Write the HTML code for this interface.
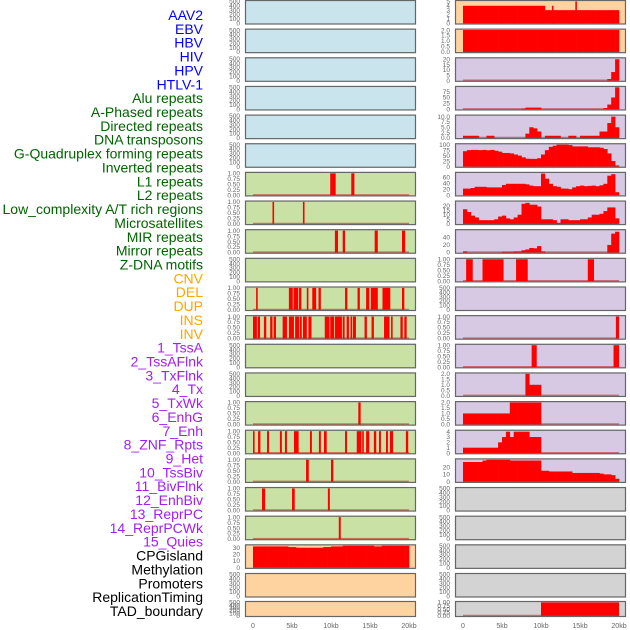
<!DOCTYPE html>
<html><head><meta charset="utf-8">
<style>
html,body{margin:0;padding:0;background:#fff;}
svg{display:block;font-family:"Liberation Sans",sans-serif;}
</style></head>
<body>
<svg id="chart" width="630" height="630" viewBox="0 0 630 630" xmlns="http://www.w3.org/2000/svg">
<g id="labels"></g>
<g id="panels"></g>
<g id="xaxes"></g>
</svg>
<script>
// ---- label data ----
const trackLabels = ["AAV2","EBV","HBV","HIV","HPV","HTLV-1","Alu repeats","A-Phased repeats","Directed repeats","DNA transposons","G-Quadruplex forming repeats","Inverted repeats","L1 repeats","L2 repeats","Low_complexity A/T rich regions","Microsatellites","MIR repeats","Mirror repeats","Z-DNA motifs","CNV","DEL","DUP","INS","INV","1_TssA","2_TssAFlnk","3_TxFlnk","4_Tx","5_TxWk","6_EnhG","7_Enh","8_ZNF_Rpts","9_Het","10_TssBiv","11_BivFlnk","12_EnhBiv","13_ReprPC","14_ReprPCWk","15_Quies","CPGisland","Methylation","Promoters","ReplicationTiming","TAD_boundary"];
const labelGroups = [6,13,5,15,5];
const groupColors = ["#0000ff","#006400","#ffa500","#a020f0","#000000"];

// ---- x axis ----
const xTickValues = [0,5,10,15,20];
const xTickLabels = ["0","5kb","10kb","15kb","20kb"];

// ---- y tick sets ----
const t500 = [0,100,200,300,400,500];
const t500L = ["0","100","200","300","400","500"];
const tBin = [0,0.25,0.5,0.75,1];
const tBinL = ["0.00","0.25","0.50","0.75","1.00"];
const t2 = [0,0.5,1,1.5,2];
const t2L = ["0.0","0.5","1.0","1.5","2.0"];

// ---- left track data (intervals in kb, value 1) ----
const leftR6 = [[9.9,10.6],[12.6,13.0]];
const leftR7 = [[2.5,2.7],[6.4,6.6]];
const leftR8 = [[10.5,10.9],[11.5,11.8],[15.6,16.0],[19.1,19.5]];
const leftR10 = [[0.4,0.6],[4.6,5.1],[5.2,5.8],[5.9,6.2],[6.9,7.1],[7.6,8.1],[8.4,8.7],[11.8,12.1],[13.4,13.7],[14.5,14.9],[15.1,16.0],[16.6,17.6],[19.1,19.4]];
const leftR11 = [[0,0.5],[0.6,0.9],[1.4,1.7],[2.2,2.5],[2.65,2.95],[3.8,4.35],[4.6,5.25],[5.4,5.9],[6.0,6.25],[6.4,6.9],[7.1,7.5],[9.2,9.8],[9.9,10.4],[10.5,11.4],[11.5,11.75],[12.0,12.3],[12.5,12.7],[12.8,13.2],[14.3,14.6],[15.2,15.5],[16.8,17.5],[17.7,17.9],[18.9,19.2],[19.4,19.7]];
const leftR14 = [[13.5,13.8]];
const leftR15 = [[0,0.15],[0.65,0.95],[1.8,2.05],[3.45,3.7],[4.1,4.35],[5.25,5.85],[7.3,7.55],[8.45,8.7],[9.1,9.45],[11.8,12.05],[13.3,13.9],[14.0,14.2],[14.5,14.9],[15.5,15.8],[16.15,16.4],[17.05,17.3],[17.55,17.95],[19.6,19.9]];
const leftR16 = [[6.8,7.15],[10.0,10.3]];
const leftR17 = [[1.15,1.55],[5.0,5.35],[9.6,9.85]];
const leftR18 = [[11.0,11.25]];
const cpgValues = [32,32,32,32,32,32,32,32,32,31,31,30,30,30,30,30,30,30,31,31,32,32,32,33,33,33,33,33,33,33,33,32,32,33,33,33,33,33,33,33];

// ---- right track data (0.5kb bins) ----
const rightR0 = [4,4,4,4,4,4,4,4,4,4,4,4,4,4,4,4,4,4,4,4,4,3,3,3,3,3,3,3,3,3,3,3,3,3,3,3,3,3,3,3];
const rightR0Spikes = [[11.4,11.6,4],[14.4,14.6,5]];
const rightR1 = [2,2,2,2,2,2,2,2,2,2,2,2,2,2,2,2,2,2,2,2,2,2,2,2,2,2,2,2,2,2,2,2,2,2,2,2,2,2,2,2];
const rightR2 = [0,0,0,0,0,0,0,0,0,0,0,0,0,0,0,0,0,0,0,0,0,0,0,0,0,0,0,0,0,0,0,0,0,0,0,0,0,1.5,8,20];
const rightR3 = [0,0,0,0,0,0,0,0,0,0,0,0,0,0,0,2,7,7,7,7,0,0,0,0,0,0,0,0,0,0,0,0,0,0,0,0,5,20,50,93];
const rightR4 = [1,1,1,1,0,0,1,1,0,0,0,0,0,0,0,0,2,5,4.5,3,0,1,1,1,1,0,0,1,1,0,1,1,1,1,1,3,3,7,10,5];
const rightR5 = [70,75,76,76,75,76,74,76,72,68,62,62,60,55,50,42,36,35,35,38,55,75,90,95,100,100,100,98,92,92,92,92,88,88,88,86,80,60,25,5];
const rightR6 = [22,22,24,28,28,28,26,26,26,26,34,38,38,38,38,38,36,32,30,30,72,55,38,30,28,22,22,20,26,30,32,30,31,32,30,33,38,65,70,10];
const rightR7 = [16,13,9,7,4,4,4,4,5,8,9,6,5,7,10,22,23,21,21,19,5,5,5,4,1,5,5,4,4,4,5,5,7,10,10,11,14,18,18,6];
const rightR8 = [3,0,0,0,0,0,0,0,0,0,2,2,2,3,3,6,8,12,11,17,3,0,0,0,0,0,0,0,0,0,0,0,0,0,0,0,0,20,50,55];
const rightR9 = [[0.4,1.25],[2.5,5.2],[6.8,8.3],[16.0,16.8]];
const rightR11 = [[19.6,20.0]];
const rightR12 = [[8.8,9.45],[19.3,20.0]];
const rightR13 = [0,0,0,0,0,0,0,0,0,0,0,0,0,0,0,0,2,1,1,1,0,0,0,0,0,0,0,0,0,0,0,0,0,0,0,0,0,0,0,0];
const rightR14 = [1,1,1,1,1,1,1,1,1,1,1,1,2,2,2,2,2,2,2,2,0,0,0,0,0,0,0,0,0,0,0,0,0,0,0,0,0,0,0,0];
const rightR15 = [1,1,1,1,1,1,1,1,1,2,3,4,3,4,4,4,4,3,3,3,0,0,0,0,0,0,0,0,0,0,0,0,0,0,0,0,0,0,0,0];
const rightR16 = [27,27,27,27,27,29,30,30,30,30,30,30,29,29,29,29,29,29,29,29,15,15,14,14,14,14,14,14,12,12,12,12,12,12,12,11,10,10,9,4];
const rightR21 = [[10.0,20.0]];

// ---- colors ----
const C = {blue:"#c9e4ec", green:"#c9e1a5", purple:"#d7c8e3", orange:"#ffd3a0", gray:"#d3d3d3"};

const NS = "http://www.w3.org/2000/svg";
function mk(tag, attrs, parent){
  const e = document.createElementNS(NS, tag);
  for (const k in attrs) e.setAttribute(k, attrs[k]);
  parent.appendChild(e);
  return e;
}
const gL = document.getElementById("labels");
const gP = document.getElementById("panels");
const gX = document.getElementById("xaxes");

// labels
let idx = 0;
labelGroups.forEach((n, gi) => {
  for (let k = 0; k < n; k++) {
    const t = mk("text", {x:203, y:15 + idx*13.86 + 5, "text-anchor":"end", "font-size":"14", fill:groupColors[gi]}, gL);
    t.textContent = trackLabels[idx];
    
    
    idx++;
  }
});

// panel geometry
function rowTop(i){ return i < 21 ? i*28.65 : 601; }
function rowH(i){ return i < 21 ? 24.5 : 16; }
const PXKB = 7.8;
function xScale(side, kb){ return (side ? 463 : 253) + kb*PXKB; }
function yScale(i, v, ymax){ const b = rowTop(i)+rowH(i)-1.2; return b - v/ymax*(rowH(i)-2.6); }

function panel(side, i, bg, ticks, tickLabels, ymax, drawFn, name){
  const g = mk("g", {}, gP);
  
  
  const x0 = side ? 455 : 245;
  const bgR = mk("rect", {x:x0, y:rowTop(i), width:171, height:rowH(i), fill:bg}, g);
  
  
  if (drawFn) {
    const bl = mk("line", {x1:xScale(side,0), x2:xScale(side,20), y1:yScale(i,0,ymax)-0.3, y2:yScale(i,0,ymax)-0.3, stroke:"rgba(190,30,30,0.55)", "stroke-width":1.6}, g);
    
    
    drawFn(g, side, i, ymax);
  }
  const br = mk("rect", {x:x0+0.5, y:rowTop(i)+0.5, width:170, height:rowH(i)-1, fill:"none", stroke:"#666", "stroke-width":1.2}, g);
  
  
  ticks.forEach((tv, k) => {
    const t = mk("text", {x: side ? 450 : 240, y: yScale(i,tv,ymax)+2.2, "text-anchor":"end", "font-size":"6.5", fill:"#666"}, g);
    t.textContent = tickLabels[k];
    
    
  });
}
function bins(arr){
  return function(g, side, i, ymax){
    arr.forEach((v, k) => {
      if (!v) return;
      const x1 = xScale(side, k*0.5), x2 = xScale(side, k*0.5+0.5);
      const y = yScale(i, v, ymax);
      const r = mk("rect", {x:x1, y:y, width:x2-x1+0.3, height:yScale(i,0,ymax)-y, fill:"#ff0000"}, g);
      
      
    });
  };
}
function intervals(arr){
  return function(g, side, i, ymax){
    arr.forEach(iv => {
      const x1 = xScale(side, iv[0]);
      const w = Math.max(xScale(side, iv[1]) - x1, 1.6);
      const v = iv.length > 2 ? iv[2] : 1;
      const y = yScale(i, v, ymax);
      const r = mk("rect", {x:x1, y:y, width:w, height:yScale(i,0,ymax)-y, fill:"#ff0000"}, g);
      
      
    });
  };
}
function both(a, b){ return function(g,s,i,m){ a(g,s,i,m); b(g,s,i,m); }; }

// left column
for (let i = 0; i < 6; i++) panel(0, i, C.blue, t500, t500L, 500, null, 'left-panel-' + i);
panel(0, 6, C.green, tBin, tBinL, 1, intervals(leftR6), 'left-panel-6');
panel(0, 7, C.green, tBin, tBinL, 1, intervals(leftR7), 'left-panel-7');
panel(0, 8, C.green, tBin, tBinL, 1, intervals(leftR8), 'left-panel-8');
panel(0, 9, C.green, t500, t500L, 500, null, 'left-panel-9');
panel(0, 10, C.green, tBin, tBinL, 1, intervals(leftR10), 'left-panel-10');
panel(0, 11, C.green, tBin, tBinL, 1, intervals(leftR11), 'left-panel-11');
panel(0, 12, C.green, t500, t500L, 500, null, 'left-panel-12');
panel(0, 13, C.green, t500, t500L, 500, null, 'left-panel-13');
panel(0, 14, C.green, tBin, tBinL, 1, intervals(leftR14), 'left-panel-14');
panel(0, 15, C.green, tBin, tBinL, 1, intervals(leftR15), 'left-panel-15');
panel(0, 16, C.green, tBin, tBinL, 1, intervals(leftR16), 'left-panel-16');
panel(0, 17, C.green, tBin, tBinL, 1, intervals(leftR17), 'left-panel-17');
panel(0, 18, C.green, tBin, tBinL, 1, intervals(leftR18), 'left-panel-18');
panel(0, 19, C.orange, [0,10,20,30], ["0","10","20","30"], 33, bins(cpgValues), 'left-panel-cpg');
panel(0, 20, C.orange, t500, t500L, 500, null, 'left-panel-20');
panel(0, 21, C.orange, t500, t500L, 500, null, 'left-panel-21');

// right column
panel(1, 0, C.orange, [0,1,2,3,4,5], ["0","1","2","3","4","5"], 5, both(bins(rightR0), intervals(rightR0Spikes)), 'right-panel-0');
panel(1, 1, C.orange, t2, t2L, 2, bins(rightR1), 'right-panel-1');
panel(1, 2, C.purple, [0,5,10,15,20], ["0","5","10","15","20"], 20.5, bins(rightR2), 'right-panel-2');
panel(1, 3, C.purple, [0,25,50,75], ["0","25","50","75"], 93, bins(rightR3), 'right-panel-3');
panel(1, 4, C.purple, [0,2.5,5,7.5,10], ["0.0","2.5","5.0","7.5","10.0"], 10.3, bins(rightR4), 'right-panel-4');
panel(1, 5, C.purple, [0,25,50,75,100], ["0","25","50","75","100"], 100, bins(rightR5), 'right-panel-5');
panel(1, 6, C.purple, [0,20,40,60], ["0","20","40","60"], 73, bins(rightR6), 'right-panel-6');
panel(1, 7, C.purple, [0,5,10,15,20], ["0","5","10","15","20"], 24, bins(rightR7), 'right-panel-7');
panel(1, 8, C.purple, [0,20,40], ["0","20","40"], 58, bins(rightR8), 'right-panel-8');
panel(1, 9, C.purple, tBin, tBinL, 1, intervals(rightR9), 'right-panel-9');
panel(1, 10, C.purple, t500, t500L, 500, null, 'right-panel-10');
panel(1, 11, C.purple, tBin, tBinL, 1, intervals(rightR11), 'right-panel-11');
panel(1, 12, C.purple, tBin, tBinL, 1, intervals(rightR12), 'right-panel-12');
panel(1, 13, C.purple, t2, t2L, 2, bins(rightR13), 'right-panel-13');
panel(1, 14, C.purple, t2, t2L, 2, bins(rightR14), 'right-panel-14');
panel(1, 15, C.purple, [0,1,2,3,4], ["0","1","2","3","4"], 4.1, bins(rightR15), 'right-panel-15');
panel(1, 16, C.purple, [0,10,20], ["0","10","20"], 30, bins(rightR16), 'right-panel-16');
for (let i = 17; i < 21; i++) panel(1, i, C.gray, t500, t500L, 500, null, 'right-panel-' + i);
panel(1, 21, C.gray, tBin, tBinL, 1, intervals(rightR21), 'right-panel-21');

// x axes
[0,1].forEach(side => {
  xTickValues.forEach((v, k) => {
    const t = mk("text", {x:xScale(side, v), y:628, "text-anchor":"middle", "font-size":"7", fill:"#666"}, gX);
    t.textContent = xTickLabels[k];
    
    
  });
});
</script>
</body></html>
